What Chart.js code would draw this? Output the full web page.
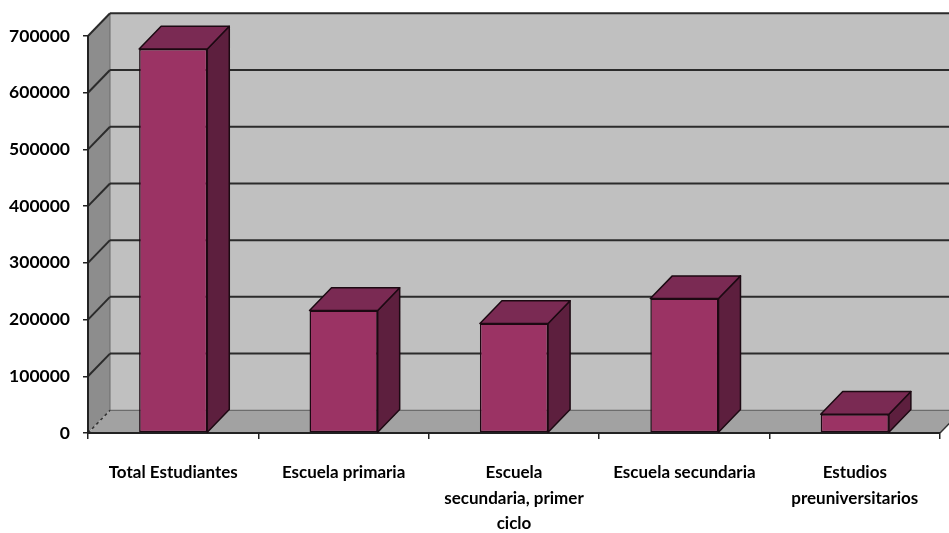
<!DOCTYPE html>
<html lang="es">
<head>
<meta charset="utf-8">
<title>Estudiantes por nivel educativo</title>
<script src="https://cdn.jsdelivr.net/npm/chart.js@4/dist/chart.umd.min.js"></script>
<style>
  html, body { margin: 0; padding: 0; background: #ffffff; }
  #wrap { width: 949px; height: 533px; position: relative; }
</style>
</head>
<body>
<div id="wrap"><canvas id="chart"></canvas></div>
<script>
// Categories (multi-line labels) and values
const categories = [
  ['Total Estudiantes'],
  ['Escuela primaria'],
  ['Escuela', 'secundaria, primer', 'ciclo'],
  ['Escuela secundaria'],
  ['Estudios', 'preuniversitarios']
];
const students = [677000, 216000, 193000, 237000, 33000];
const yTickValues = [0, 100000, 200000, 300000, 400000, 500000, 600000, 700000];

// Depth of the pseudo-3D box (pixels)
const DX = 22;
const DY = -22.7;

const COLORS = {
  backWall: '#c0c0c0',
  sideWall: '#8d8d8d',
  floor: '#a2a2a2',
  grid: '#2b2b2b',
  front: '#9b3364',
  side: '#5d1f3e',
  top: '#7a2a53',
  outline: '#1c0912'
};

function poly(ctx, pts, fill, stroke, lw) {
  ctx.beginPath();
  ctx.moveTo(pts[0][0], pts[0][1]);
  for (let i = 1; i < pts.length; i++) ctx.lineTo(pts[i][0], pts[i][1]);
  ctx.closePath();
  if (fill) { ctx.fillStyle = fill; ctx.fill(); }
  if (stroke) { ctx.strokeStyle = stroke; ctx.lineWidth = lw || 1; ctx.stroke(); }
}

function line(ctx, x1, y1, x2, y2, color, lw, dash) {
  ctx.save();
  ctx.beginPath();
  ctx.setLineDash(dash || []);
  ctx.moveTo(x1, y1);
  ctx.lineTo(x2, y2);
  ctx.strokeStyle = color;
  ctx.lineWidth = lw;
  ctx.stroke();
  ctx.restore();
}

// Walls, floor and gridlines behind the bars
const box3d = {
  id: 'box3d',
  beforeDraw(chart) {
    const ctx = chart.ctx;
    const y = chart.scales.y;
    const x = chart.scales.x;
    const L = x.left, R = x.right;
    const y0 = y.getPixelForValue(yTickValues[0]);
    const yMax = y.getPixelForValue(yTickValues[yTickValues.length - 1]);
    ctx.save();
    // back wall
    poly(ctx, [[L + DX, yMax + DY], [R + DX + 40, yMax + DY], [R + DX + 40, y0 + DY], [L + DX, y0 + DY]], COLORS.backWall);
    // left wall
    poly(ctx, [[L, yMax], [L + DX, yMax + DY], [L + DX, y0 + DY], [L, y0]], COLORS.sideWall);
    // floor
    poly(ctx, [[L, y0], [L + DX, y0 + DY], [R + DX, y0 + DY], [R, y0]], COLORS.floor);
    // wall seams
    line(ctx, L + DX, yMax + DY, L + DX, y0 + DY, '#6a6a6a', 1);
    line(ctx, L + DX, y0 + DY, R + DX + 40, y0 + DY, '#5a5a5a', 1);
    // gridlines on back and left walls
    yTickValues.forEach(v => {
      if (v === 0) return;
      const py = y.getPixelForValue(v);
      line(ctx, L, py, L + DX, py + DY, COLORS.grid, 2);
      line(ctx, L + DX, py + DY, R + DX + 40, py + DY, COLORS.grid, 2);
    });
    // floor edges
    line(ctx, L, y0, L + DX, y0 + DY, '#333333', 1.5, [3, 3]);
    line(ctx, R, y0, R + DX, y0 + DY, '#333333', 1.5);
    ctx.restore();
  },
  afterDatasetsDraw(chart) {
    const ctx = chart.ctx;
    const meta = chart.getDatasetMeta(0);
    ctx.save();
    ctx.lineJoin = 'round';
    meta.data.forEach(bar => {
      const p = bar.getProps(['x', 'y', 'base', 'width'], true);
      const xl = p.x - p.width / 2;
      const xr = p.x + p.width / 2;
      const top = Math.min(p.y, p.base);
      const base = Math.max(p.y, p.base);
      // side face
      poly(ctx, [[xr, top], [xr + DX, top + DY], [xr + DX, base + DY], [xr, base]], COLORS.side, COLORS.outline, 1.5);
      // top face
      poly(ctx, [[xl, top], [xl + DX, top + DY], [xr + DX, top + DY], [xr, top]], COLORS.top, COLORS.outline, 1.5);
    });
    ctx.restore();
  }
};

const labelFont = { family: 'Lato', weight: 'bold', size: 17, lineHeight: 1.5 };

new Chart(document.getElementById('chart'), {
  type: 'bar',
  data: {
    labels: categories,
    datasets: [{
      data: students,
      backgroundColor: COLORS.front,
      borderColor: COLORS.outline,
      borderWidth: 1.5,
      borderSkipped: false,
      barPercentage: 0.4,
      categoryPercentage: 1.0
    }]
  },
  options: {
    responsive: true,
    maintainAspectRatio: false,
    animation: false,
    layout: { padding: { top: 36, right: 9, left: 0, bottom: 0 } },
    plugins: {
      legend: { display: false },
      tooltip: { enabled: false }
    },
    scales: {
      x: {
        grid: {
          offset: true,
          drawOnChartArea: false,
          drawTicks: true,
          tickLength: 6,
          color: '#222222',
          lineWidth: 1.5
        },
        border: { display: true, color: '#222222', width: 2 },
        ticks: {
          color: '#000000',
          font: labelFont,
          padding: 21,
          maxRotation: 0,
          autoSkip: false
        },
        afterFit(scale) { scale.height = 100; }
      },
      y: {
        min: yTickValues[0],
        max: yTickValues[yTickValues.length - 1],
        afterBuildTicks(scale) { scale.ticks = yTickValues.map(v => ({ value: v })); },
        grid: {
          drawOnChartArea: false,
          drawTicks: true,
          tickLength: 5,
          color: '#222222',
          lineWidth: 1.5
        },
        border: { display: true, color: '#222222', width: 2 },
        ticks: {
          color: '#000000',
          font: { family: 'Lato', weight: 'bold', size: 17.5 },
          padding: 13,
          callback: v => String(v)
        },
        afterFit(scale) { scale.width = 88; }
      }
    }
  },
  plugins: [box3d]
});
</script>
</body>
</html>
